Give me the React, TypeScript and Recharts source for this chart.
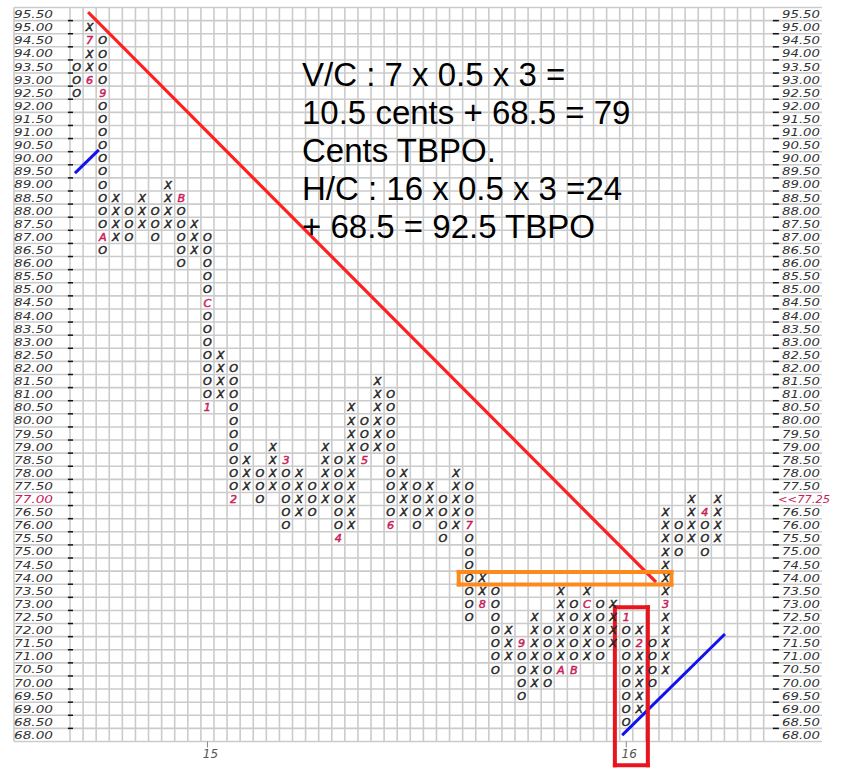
import {
  ComposedChart,
  Scatter,
  XAxis,
  YAxis,
  ReferenceLine,
} from "recharts";

// point & figure, box 0.50, 3 box reversal
const BOX = 0.5;
const PRICE_LO = 68;
const PRICE_HI = 95.5;
const N_COLS = 53;
// plot runs on past the grid so the right-hand price labels fit inside it
const X_MAX = 59.4;

// one letter per column (X = rising, O = falling)
const colKinds = "OXOXOXOXOXOXOXOXOXOXOXOXOXOXOXOXOXOXOXOXOXOXOXOXOX";
const colHighs = [
  93.5, 95.0, 94.5, 88.5, 88.0, 88.5, 88.0, 89.0, 88.5, 87.5,
  87.0, 82.5, 82.0, 78.5, 78.0, 79.0, 78.5, 78.0, 77.5, 79.0,
  78.5, 80.5, 80.0, 81.5, 81.0, 78.0, 77.5, 77.5, 77.0, 78.0,
  77.5, 74.0, 73.5, 72.0, 71.5, 72.5, 72.0, 73.5, 73.0, 73.5,
  73.0, 73.0, 72.5, 72.0, 71.5, 76.5, 76.0, 77.0, 76.5, 77.0,
];
const colLows = [
  92.5, 93.0, 86.5, 87.0, 87.0, 87.5, 87.0, 87.5, 86.0, 86.5,
  80.5, 81.0, 77.0, 77.5, 77.0, 77.5, 76.0, 76.5, 76.5, 77.0,
  75.5, 76.0, 78.5, 79.0, 76.0, 76.5, 76.0, 76.5, 75.5, 76.0,
  72.5, 73.0, 70.5, 71.0, 69.5, 70.0, 70.0, 70.5, 70.5, 71.0,
  71.0, 71.5, 68.5, 69.0, 70.0, 70.5, 75.0, 75.5, 75.0, 75.5,
];

// month markers written in place of a box
const monthCols = [1, 1, 2, 2, 8, 10, 10, 12, 16, 20, 22, 24, 30, 31, 34, 37, 38, 39, 42, 43, 45, 48];
const monthPrices = [93.0, 94.5, 92.5, 87.0, 88.5, 84.5, 80.5, 77.0, 78.5, 75.5, 78.5, 76.0, 76.0, 73.0, 71.5, 70.5, 70.5, 73.0, 72.5, 71.5, 73.0, 76.5];
const monthTexts = ["6", "7", "9", "A", "B", "C", "1", "2", "3", "4", "5", "6", "7", "8", "9", "A", "B", "C", "1", "2", "3", "4"];

// year markers on the bottom axis
const yearCols = [10, 42];
const yearTexts = ["15", "16"];

// trend lines [col, price] -> [col, price]
const resistance = [[0.97, 95.53], [44.19, 73.87]];
const supportA = [[-0.04, 89.47], [1.62, 90.28]];
const supportB = [[41.77, 68.03], [49.46, 71.81]];

// highlight boxes [col1, col2, price1, price2]
const breakoutBox = [29.2, 45.45, 73.74, 74.22];
const countBox = [41.13, 43.65, 66.84, 72.87];

const lastPrice = 77.0;
const lastLabel = "<<77.25";

const noteLines = [
  "V/C : 7 x 0.5 x 3 =",
  "10.5 cents + 68.5 = 79",
  "Cents TBPO.",
  "H/C : 16 x 0.5 x 3 =24",
  "+ 68.5 = 92.5 TBPO",
];

const INK = "#262626";
const LABEL_INK = "#333";
const MONTH = "#c81e5a";
const GRID = "#cbcbcb";
const GLYPH_FONT = "DejaVu Sans";

const X_LEFT_EDGE = -4.78;
const X_RIGHT_EDGE = 56.95;
const RIGHT_LABEL_X = 53.9;

const priceTicks: number[] = [];
for (let p = PRICE_LO; p <= PRICE_HI + 1e-9; p += BOX) priceTicks.push(+p.toFixed(2));

const marks: { x: number; y: number; t: string; month: boolean }[] = [];
colKinds.split("").forEach((kind, c) => {
  for (let p = colLows[c]; p <= colHighs[c] + 1e-9; p += BOX) {
    const price = +p.toFixed(2);
    const mi = monthCols.findIndex((mc, i) => mc === c && monthPrices[i] === price);
    marks.push({ x: c, y: price, t: mi >= 0 ? monthTexts[mi] : kind, month: mi >= 0 });
  }
});

const rightLabels = priceTicks.map((p) => ({
  x: RIGHT_LABEL_X,
  y: p,
  t: p === lastPrice ? lastLabel : p.toFixed(2),
  last: p === lastPrice,
}));

const MarkShape = (props: any) => {
  const { cx, cy, payload } = props;
  if (cx == null || cy == null) return null;
  return (
    <text
      x={cx}
      y={cy}
      dy="0.37em"
      textAnchor="middle"
      fontFamily={GLYPH_FONT}
      fontStyle="italic"
      fontSize={11.2}
      fill={payload.month ? MONTH : INK}
      stroke={payload.month ? MONTH : INK}
      strokeWidth={0.5}
    >
      {payload.t}
    </text>
  );
};

const RightLabelShape = (props: any) => {
  const { cx, cy, payload } = props;
  if (cx == null || cy == null) return null;
  return (
    <text
      x={payload.last ? cx - 4 : cx}
      y={cy}
      dy="0.36em"
      textAnchor="start"
      fontFamily={GLYPH_FONT}
      fontStyle="italic"
      fontSize={11.2}
      fill={payload.last ? MONTH : LABEL_INK}
      textLength={payload.last ? 52 : 38}
      lengthAdjust="spacingAndGlyphs"
    >
      {payload.t}
    </text>
  );
};

const LeftTick = (props: any) => {
  const { x, y, payload } = props;
  const v = payload.value as number;
  return (
    <text
      x={x}
      y={y}
      dy="0.36em"
      textAnchor="end"
      fontFamily={GLYPH_FONT}
      fontStyle="italic"
      fontSize={11.2}
      fill={v === lastPrice ? MONTH : LABEL_INK}
      textLength={39}
      lengthAdjust="spacingAndGlyphs"
    >
      {v.toFixed(2)}
    </text>
  );
};

const YearTick = (props: any) => {
  const { x, y, payload } = props;
  const i = yearCols.indexOf(payload.value);
  return (
    <text
      x={x + 3}
      y={y}
      dy="0.71em"
      textAnchor="middle"
      fontFamily={GLYPH_FONT}
      fontStyle="italic"
      fontSize={12}
      fill="#555"
    >
      {yearTexts[i]}
    </text>
  );
};

const colBounds: number[] = [];
for (let c = 0; c <= N_COLS; c++) colBounds.push(c - 0.5);
const rowBounds: number[] = [];
for (let p = PRICE_LO - BOX / 2; p <= PRICE_HI + BOX / 2 + 1e-9; p += BOX) rowBounds.push(+p.toFixed(2));

function Seg({ a, b, stroke, width }: { a: number[]; b: number[]; stroke: string; width: number }) {
  return (
    <ReferenceLine
      xAxisId="x"
      yAxisId="p"
      segment={[{ x: a[0], y: a[1] }, { x: b[0], y: b[1] }]}
      stroke={stroke}
      strokeWidth={width}
      strokeLinecap="square"
      ifOverflow="visible"
    />
  );
}

function boxSegs(box: number[], stroke: string, width: number, key: string) {
  const [x1, x2, y1, y2] = box;
  const corners = [[x1, y1], [x2, y1], [x2, y2], [x1, y2]];
  return corners.map((c, i) => (
    <ReferenceLine
      key={`${key}${i}`}
      xAxisId="x"
      yAxisId="p"
      segment={[{ x: c[0], y: c[1] }, { x: corners[(i + 1) % 4][0], y: corners[(i + 1) % 4][1] }]}
      stroke={stroke}
      strokeWidth={width}
      strokeLinecap="square"
      ifOverflow="visible"
    />
  ));
}

export default function App() {
  const yDomain = [PRICE_LO - BOX / 2, PRICE_HI + BOX / 2];
  return (
    <div style={{ position: "absolute", left: 0, top: 0, width: 854, height: 770, background: "#fff" }}>
      <ComposedChart width={854} height={770} margin={{ top: 7.5, right: 0, bottom: 0, left: 14 }}>
        <XAxis
          xAxisId="x"
          type="number"
          dataKey="x"
          domain={[-0.5, X_MAX]}
          ticks={yearCols}
          interval={0}
          height={28.5}
          axisLine={false}
          tickSize={6}
          tickMargin={2}
          tickLine={{ stroke: "#888", strokeWidth: 1 }}
          tick={<YearTick />}
          allowDataOverflow
        />
        <YAxis
          yAxisId="p"
          type="number"
          dataKey="y"
          domain={yDomain}
          ticks={priceTicks}
          interval={0}
          width={56}
          axisLine={false}
          tickLine={false}
          tickSize={0}
          tickMargin={17}
          tick={<LeftTick />}
          allowDataOverflow
        />

        {colBounds.map((b) => (
          <ReferenceLine
            key={`v${b}`}
            xAxisId="x"
            yAxisId="p"
            segment={[{ x: b, y: yDomain[0] }, { x: b, y: yDomain[1] }]}
            stroke={GRID}
            strokeWidth={1.6}
            ifOverflow="visible"
          />
        ))}
        {rowBounds.map((b) => (
          <ReferenceLine
            key={`h${b}`}
            xAxisId="x"
            yAxisId="p"
            segment={[{ x: X_LEFT_EDGE, y: b }, { x: X_RIGHT_EDGE, y: b }]}
            stroke={GRID}
            strokeWidth={1.6}
            ifOverflow="visible"
          />
        ))}
        <ReferenceLine
          xAxisId="x"
          yAxisId="p"
          segment={[{ x: X_LEFT_EDGE, y: yDomain[0] }, { x: X_LEFT_EDGE, y: yDomain[1] }]}
          stroke={GRID}
          strokeWidth={1.6}
          ifOverflow="visible"
        />
        {rowBounds.slice(1, -1).map((b) => (
          <ReferenceLine
            key={`tl${b}`}
            xAxisId="x"
            yAxisId="p"
            segment={[{ x: -0.66, y: b }, { x: -0.27, y: b }]}
            stroke="#111"
            strokeWidth={1.5}
            ifOverflow="visible"
          />
        ))}
        {rowBounds.slice(1, -1).map((b) => (
          <ReferenceLine
            key={`tr${b}`}
            xAxisId="x"
            yAxisId="p"
            segment={[{ x: 53.2, y: b }, { x: 53.66, y: b }]}
            stroke="#111"
            strokeWidth={1.5}
            ifOverflow="visible"
          />
        ))}

        <Scatter
          xAxisId="x"
          yAxisId="p"
          data={marks}
          shape={<MarkShape />}
          isAnimationActive={false}
        />
        <Scatter
          xAxisId="x"
          yAxisId="p"
          data={rightLabels}
          shape={<RightLabelShape />}
          isAnimationActive={false}
        />

        {Seg({ a: resistance[0], b: resistance[1], stroke: "#ff1f1f", width: 3.2 })}
        {Seg({ a: supportA[0], b: supportA[1], stroke: "#1212f0", width: 3 })}
        {Seg({ a: supportB[0], b: supportB[1], stroke: "#1212f0", width: 3 })}
        {boxSegs(breakoutBox, "#ff8a1c", 4, "ob")}
        {boxSegs(countBox, "#e8141e", 4, "rb")}
      </ComposedChart>
      <div
        style={{
          position: "absolute",
          left: 302,
          top: 56,
          fontFamily: "'Liberation Sans', Arial, sans-serif",
          fontSize: 33,
          lineHeight: "38px",
          color: "#000",
          whiteSpace: "nowrap",
        }}
      >
        {noteLines.map((l) => (
          <div key={l}>{l}</div>
        ))}
      </div>
    </div>
  );
}
